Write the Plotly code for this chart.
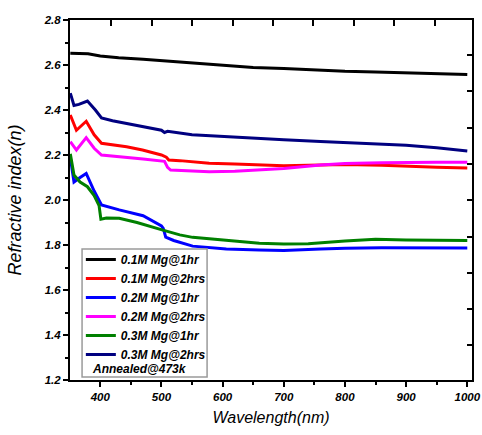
import plotly.graph_objects as go

# ---- data ----
names = ["0.1M Mg@1hr", "0.1M Mg@2hrs", "0.2M Mg@1hr", "0.2M Mg@2hrs", "0.3M Mg@1hr", "0.3M Mg@2hrs"]
colors = ["#000000", "#ff0000", "#0000ff", "#ff00ff", "#008000", "#000080"]

w_01_1 = [351, 365, 380, 400, 430, 470, 505, 550, 600, 650, 700, 760, 800, 850, 900, 950, 1000]
n_01_1 = [2.652, 2.652, 2.650, 2.640, 2.632, 2.625, 2.618, 2.606, 2.596, 2.589, 2.584, 2.576, 2.572, 2.569, 2.566, 2.562, 2.558]

w_01_2 = [351, 361, 377, 390, 402, 420, 443, 469, 500, 508, 512, 530, 578, 620, 660, 700, 760, 800, 860, 900, 950, 1000]
n_01_2 = [2.378, 2.31, 2.35, 2.29, 2.252, 2.245, 2.237, 2.222, 2.20, 2.19, 2.178, 2.175, 2.163, 2.16, 2.156, 2.152, 2.156, 2.158, 2.155, 2.15, 2.146, 2.142]

w_02_1 = [351, 357, 367, 377, 390, 402, 431, 470, 500, 503, 507, 520, 551, 606, 660, 700, 760, 800, 860, 900, 950, 1000]
n_02_1 = [2.19, 2.08, 2.10, 2.118, 2.04, 1.978, 1.956, 1.93, 1.885, 1.874, 1.835, 1.82, 1.795, 1.782, 1.778, 1.776, 1.782, 1.786, 1.788, 1.788, 1.788, 1.787]

w_02_2 = [351, 361, 377, 390, 402, 420, 443, 470, 505, 510, 515, 550, 578, 620, 660, 700, 760, 800, 860, 900, 950, 1000]
n_02_2 = [2.259, 2.222, 2.277, 2.23, 2.20, 2.196, 2.19, 2.182, 2.172, 2.145, 2.133, 2.128, 2.126, 2.128, 2.133, 2.14, 2.156, 2.162, 2.166, 2.168, 2.168, 2.168]

w_03_1 = [351, 357, 367, 379, 390, 398, 401, 410, 431, 460, 501, 530, 551, 606, 660, 700, 740, 800, 850, 900, 950, 1000]
n_03_1 = [2.205, 2.111, 2.08, 2.059, 2.02, 1.975, 1.915, 1.92, 1.919, 1.90, 1.867, 1.845, 1.834, 1.822, 1.808, 1.804, 1.806, 1.818, 1.825, 1.822, 1.82, 1.82]

w_03_2 = [351, 357, 365, 379, 392, 402, 420, 443, 470, 500, 505, 510, 550, 600, 660, 700, 760, 820, 860, 900, 950, 1000]
n_03_2 = [2.475, 2.42, 2.425, 2.44, 2.40, 2.365, 2.352, 2.34, 2.325, 2.31, 2.30, 2.305, 2.29, 2.282, 2.274, 2.268, 2.26, 2.254, 2.25, 2.243, 2.232, 2.218]

series_w = [w_01_1, w_01_2, w_02_1, w_02_2, w_03_1, w_03_2]
series_n = [n_01_1, n_01_2, n_02_1, n_02_2, n_03_1, n_03_2]

x_range = [350.5, 1007.7]
y_range = [1.2, 2.8]
note_text = "Annealed@473k"
x_title = "Wavelength(nm)"
y_title = "Refractive index(n)"

FONT = "Liberation Sans, Arial, sans-serif"

fig = go.Figure()
for nm, c, xs, ys in zip(names, colors, series_w, series_n):
    fig.add_trace(go.Scatter(x=xs, y=ys, mode="lines", name=nm,
                             line=dict(color=c, width=3)))

# dummy trace to make the decorative top/right axes render
fig.add_trace(go.Scatter(x=[None], y=[None], xaxis="x2", yaxis="y2",
                         showlegend=False, hoverinfo="skip"))

tickfont = dict(family=FONT, size=11.5, color="#000", weight="bold", style="italic")

fig.update_layout(
    width=482, height=435,
    margin=dict(l=70, r=10, t=20, b=55),
    paper_bgcolor="white", plot_bgcolor="white",
    showlegend=True,
    legend=dict(x=0.027, y=0.375, xanchor="left", yanchor="top",
                bgcolor="rgba(0,0,0,0)", borderwidth=0,
                font=dict(family=FONT, size=12, color="#000", weight="bold", style="italic"),
                tracegroupgap=0, itemwidth=30),
    xaxis=dict(range=x_range, showgrid=False, zeroline=False, automargin=False,
               showline=True, linecolor="#000", linewidth=2,
               ticks="outside", ticklen=5, tickwidth=2, tickcolor="#000",
               tick0=400, dtick=100, tickfont=tickfont,
               minor=dict(ticks="outside", dtick=50, ticklen=3, tickwidth=2, tickcolor="#000"),
               title=dict(text=x_title, standoff=10,
                          font=dict(family=FONT, size=16, color="#000", style="italic"))),
    yaxis=dict(range=y_range, showgrid=False, zeroline=False, automargin=False,
               showline=True, linecolor="#000", linewidth=2,
               ticks="outside", ticklen=5, tickwidth=2, tickcolor="#000",
               tick0=1.2, dtick=0.2, tickformat=".1f", tickfont=tickfont,
               minor=dict(ticks="outside", dtick=0.1, ticklen=3, tickwidth=2, tickcolor="#000"),
               title=dict(text=y_title, standoff=17,
                          font=dict(family=FONT, size=18, color="#000", style="italic"))),
    xaxis2=dict(overlaying="x", side="top", range=x_range, showgrid=False, zeroline=False,
                automargin=False, showline=True, linecolor="#000", linewidth=2,
                ticks="inside", ticklen=6, tickwidth=2, tickcolor="#000",
                tick0=418, dtick=66.1, showticklabels=False),
    yaxis2=dict(overlaying="y", side="right", range=y_range, showgrid=False, zeroline=False,
                automargin=False, showline=True, linecolor="#000", linewidth=2,
                ticks="inside", ticklen=5, tickwidth=2, tickcolor="#000",
                tick0=2.644, dtick=0.1613, showticklabels=False),
    shapes=[dict(type="rect", xref="paper", yref="paper",
                 x0=0.03, x1=0.341, y0=0.008, y1=0.364,
                 line=dict(color="#9a9a9a", width=1.5), fillcolor="rgba(0,0,0,0)")],
    annotations=[dict(text=note_text, xref="paper", yref="paper",
                      x=0.05, y=0.031, xanchor="left", yanchor="middle", showarrow=False,
                      font=dict(family=FONT, size=12, color="#000", weight="bold", style="italic"))],
)

fig.write_html("out.html",
               config={"displayModeBar": False},
               post_script="document.body.style.margin='0';document.body.style.overflow='hidden';")
